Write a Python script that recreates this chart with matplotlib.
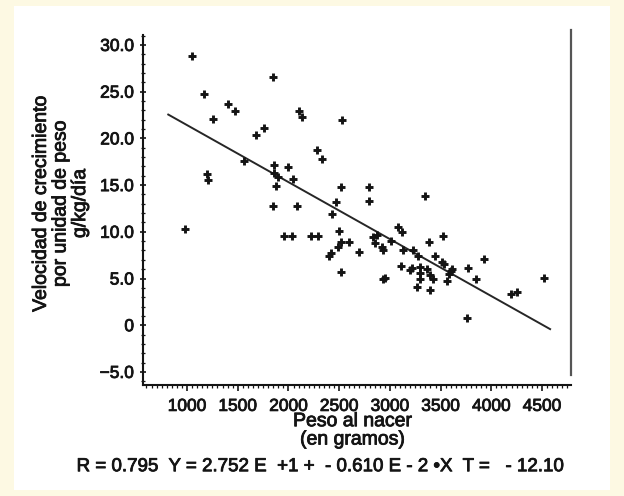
"""
plot.py
-------
Scatter of growth velocity per unit of weight against birth weight,
with the fitted regression line and the fit summary printed below.
The figure is saved as out.png.
"""

import matplotlib
matplotlib.use("Agg")
import matplotlib.pyplot as plt
import matplotlib.ticker as mticker
import matplotlib.patheffects as pe
from matplotlib.patches import Rectangle

# ──────────────────────────────────────────────
# Data
# ──────────────────────────────────────────────
birth_weight = [
    1046, 1845, 1171, 1401, 1473, 1259, 1759, 1677, 1565, 1861,
    1999, 1194, 1204, 1900, 1880, 1845, 980, 1954, 2104, 2131,
    2531, 2279, 2328, 2042, 2515, 2797, 2085, 2466, 2797, 2427,
    2032, 2220, 2296, 2502, 2518, 2484, 2597, 2420, 2395, 2699,
    2523, 2870, 2829, 2858, 2918, 2932, 3011, 3085, 3115, 3133,
    3231, 3280, 3110, 3194, 3218, 3297, 3297, 3297, 2952, 2932,
    3265, 3346, 3521, 3389, 3445, 3511, 3529, 3363, 3396, 3428,
    3396, 3566, 3598, 3616, 3586, 3773, 3928, 3846, 4191, 4251,
    4520, 3758, 1858,
]
growth_rate = [
    28.8, 26.6, 24.8, 23.7, 22.9, 22.1, 21.1, 20.4, 17.6, 17.2,
    16.9, 16.2, 15.5, 15.9, 14.9, 12.8, 10.3, 9.6, 22.9, 22.3,
    22.0, 18.8, 17.8, 15.7, 14.8, 14.8, 12.8, 13.2, 13.3, 11.9,
    9.6, 9.6, 9.6, 10.1, 8.9, 8.4, 8.9, 7.7, 7.4, 7.8,
    5.7, 9.7, 9.4, 8.8, 8.4, 8.1, 9.0, 10.5, 10.0, 8.1,
    8.1, 7.4, 6.3, 5.9, 6.1, 6.2, 5.6, 4.9, 5.1, 4.9,
    4.1, 13.8, 9.5, 8.9, 7.4, 6.8, 6.6, 6.0, 5.4, 4.9,
    3.8, 4.7, 5.8, 6.0, 5.5, 6.1, 7.1, 4.9, 3.3, 3.6,
    5.1, 0.75, 16.3,
]

# Regression printed under the chart: Y = 2.752E+1 - 0.610E-2 * X
fit_intercept = 2.752e1
fit_slope = -0.610e-2
fit_range = [815, 4580]

x_ticks = [1000, 1500, 2000, 2500, 3000, 3500, 4000, 4500]
y_ticks = [30, 25, 20, 15, 10, 5, 0, -5]
y_tick_labels = ["30.0", "25.0", "20.0", "15.0", "10.0", "5.0", "0", "\u22125.0"]

x_title = "Peso al nacer"
x_subtitle = "(en gramos)"
y_title = "Velocidad de crecimiento\npor unidad de peso\ng/kg/día"
caption = "R = 0.795  Y = 2.752 E  +1 +  - 0.610 E - 2 •X  T =   - 12.10"

# ──────────────────────────────────────────────
# Configuration
# ──────────────────────────────────────────────
OUTPUT_FILE = "out.png"
FIG_W, FIG_H = 624, 496
CREAM = "#fdf9e3"
INK = "#141414"
FONT = "Liberation Sans"
HEAVY = [pe.withStroke(linewidth=0.6, foreground=INK)]   # mimic scanned ink

plt.rcParams["font.family"] = [FONT, "DejaVu Sans"]


def px(x, y):
    """Pixel position (from the top-left corner) to figure fraction."""
    return x / FIG_W, 1 - y / FIG_H


fig = plt.figure(figsize=(FIG_W / 100, FIG_H / 100), dpi=100)
fig.patch.set_facecolor(CREAM)

# white "paper" inside the cream border
x0, y0 = px(14, 490)
x1, y1 = px(610, 6)
fig.patches.append(Rectangle((x0, y0), x1 - x0, y1 - y0, transform=fig.transFigure,
                             facecolor="white", edgecolor="none", zorder=-5))

left, bottom = px(143, 385)
right, top = px(571, 30)
ax = fig.add_axes([left, bottom, right - left, top - bottom])
ax.set_zorder(2)
ax.set_facecolor("none")
ax.set_xlim(566, 4786)
ax.set_ylim(-6.4, 31.6)

# points and fitted line
ax.plot(birth_weight, growth_rate, linestyle="none", marker="+",
        markersize=5.2, markeredgewidth=2.1, color=INK, zorder=3)
fit_y = [fit_intercept + fit_slope * x for x in fit_range]
ax.plot(fit_range, fit_y, color="#262626", linewidth=1.4, zorder=2)

# spines
ax.spines["top"].set_visible(False)
ax.spines["left"].set_bounds(-6.4, 31.07)
ax.spines["right"].set_bounds(-5.3, 31.6)
ax.spines["right"].set_color("#555555")
ax.spines["right"].set_linewidth(1.6)
for side in ("left", "bottom"):
    ax.spines[side].set_linewidth(1.5)
    ax.spines[side].set_color(INK)

# ticks
ax.set_xticks(x_ticks)
ax.xaxis.set_minor_locator(mticker.MultipleLocator(50))
ax.set_yticks(y_ticks)
ax.set_yticklabels(y_tick_labels)
ax.yaxis.set_minor_locator(mticker.MultipleLocator(1))
ax.tick_params(axis="x", which="major", direction="out", length=4, width=1.2,
               pad=6, labelsize=12.5, colors=INK)
ax.tick_params(axis="x", which="minor", direction="out", length=2.5, width=0.9, colors=INK)
ax.tick_params(axis="y", which="major", direction="inout", length=5, width=1.2,
               pad=4, labelsize=12.5, colors=INK)
ax.tick_params(axis="y", which="minor", direction="inout", length=3, width=0.9, colors=INK)
ax.tick_params(right=False, which="both")
for lab in ax.get_xticklabels() + ax.get_yticklabels():
    lab.set_path_effects(HEAVY)

# titles and caption
text_style = dict(ha="center", va="center", fontsize=14, color=INK, path_effects=HEAVY)
fig.text(*px(353, 421.7), x_title, **text_style)
fig.text(*px(353, 440), x_subtitle, **text_style)
fig.text(*px(61, 203), y_title, rotation=90, multialignment="center",
         linespacing=1.2, **text_style)
fig.text(*px(321, 466.7), caption, **{**text_style, "fontsize": 13.5})

fig.savefig(OUTPUT_FILE, dpi=100, facecolor=fig.get_facecolor())
